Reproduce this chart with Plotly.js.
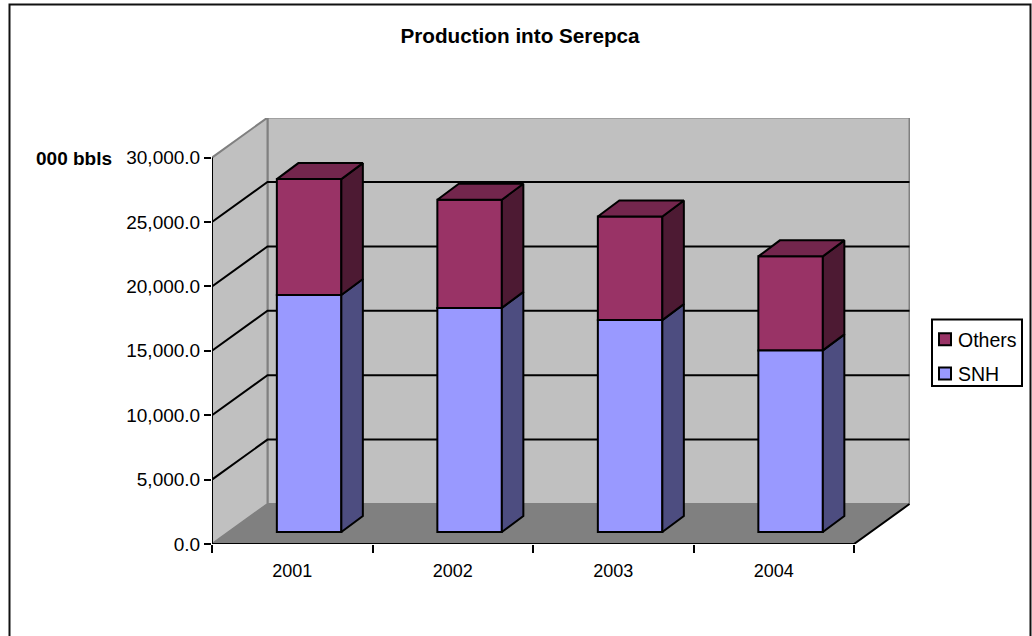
<!DOCTYPE html>
<html><head><meta charset="utf-8">
<script src="https://cdn.plot.ly/plotly-3.0.1.min.js"></script>
<style>html,body{margin:0;padding:0;background:#fff}</style></head>
<body><div id="chart" style="width:1032px;height:636px"></div>
<script>
const categories = ["2001","2002","2003","2004"];
const snh = [18400, 17400, 16450, 14100];
const others = [9000, 8400, 8050, 7300];
const yTicks = [0,5000,10000,15000,20000,25000,30000];

const W=1032,H=636;
const FONT='"Liberation Sans", Arial, sans-serif';
const plot={l:212,r:910,t:118,b:544};
const px=v=>(v-plot.l)/(plot.r-plot.l), py=v=>(plot.b-v)/(plot.b-plot.t);
const yMax=30000*(plot.b-plot.t)/386.4;
const xUnit=160.5;
const xMax=(plot.r-plot.l)/xUnit;
const depthX=55.5/xUnit, depthY=40*30000/386.4;
const barDX=21.5/xUnit, barDY=16*30000/386.4;
const barOffset=0.605, barW=64.5/xUnit, floorGap=12*30000/386.4;
const centers=categories.map((_,i)=>i+barOffset);
const LW=2;

function poly(pts,fill,line,w){
  return {type:'path',xref:'x',yref:'y',layer:'below',
    path:'M'+pts.map(p=>p[0]+','+p[1]).join('L')+(fill?'Z':''),
    fillcolor:fill||'rgba(0,0,0,0)',line:{color:line||'rgba(0,0,0,0)',width:w||0}};
}
const top30=30000;
const shapes=[
  poly([[depthX,depthY],[4+depthX,depthY],[4+depthX,top30+depthY],[depthX,top30+depthY]],'#c0c0c0','#808080',2),
  poly([[0,0],[depthX,depthY],[depthX,top30+depthY],[0,top30]],'#c0c0c0','#808080',2),
  poly([[0,0],[4,0],[4+depthX,depthY],[depthX,depthY]],'#808080','#808080',1)
];
yTicks.slice(1).forEach(v=>{
  if(v<30000) shapes.push(poly([[0,v],[depthX,v+depthY],[4+depthX,v+depthY]],null,'#000',LW));
});
shapes.push(poly([[0,0],[0,top30]],null,'#000',LW));
shapes.push(poly([[0,0],[4,0],[4+depthX,depthY]],null,'#000',LW));
shapes.push({type:'rect',xref:'paper',yref:'paper',x0:px(9.5),x1:px(1030.5),y0:py(650),y1:py(4.5),
  line:{color:'#111',width:2},fillcolor:'rgba(0,0,0,0)',layer:'below'});
shapes.push({type:'rect',xref:'paper',yref:'paper',x0:px(932),x1:px(1022),y0:py(386),y1:py(319.5),
  line:{color:'#000',width:2},fillcolor:'#fff',layer:'below'});

function face(xs,ys,color){
  return {type:'scatter',x:xs,y:ys,mode:'lines',fill:'toself',fillcolor:color,
    line:{color:'#000',width:LW},showlegend:false,hoverinfo:'skip',cliponaxis:false};
}
const traces=[];
const bases=snh.map(()=>floorGap);
const mids=snh.map(v=>v+floorGap);
traces.push({type:'bar',name:'Others',x:centers,y:others,base:mids,width:barW,
  marker:{color:'#993366',line:{color:'#000',width:LW}},legendgroup:'a'});
traces.push({type:'bar',name:'SNH',x:centers,y:snh,base:bases,width:barW,
  marker:{color:'#9999ff',line:{color:'#000',width:LW}},legendgroup:'b'});
centers.forEach((c,i)=>{
  const r=c+barW/2,l=c-barW/2,a=floorGap,b=mids[i],t=mids[i]+others[i];
  traces.push(face([r,r+barDX,r+barDX,r,r],[a,a+barDY,b+barDY,b,a],'#4d4d80'));
  traces.push(face([r,r+barDX,r+barDX,r,r],[b,b+barDY,t+barDY,t,b],'#4d1a33'));
  traces.push(face([l,r,r+barDX,l+barDX,l],[t,t,t+barDY,t+barDY,t],'#73264d'));
});
traces.push({type:'scatter',x:categories.map((_,i)=>i+0.5),y:categories.map(()=>0),xaxis:'x2',
  mode:'markers',marker:{opacity:0},showlegend:false,hoverinfo:'skip'});

const layout={
  width:W,height:H,paper_bgcolor:'#fff',plot_bgcolor:'rgba(0,0,0,0)',
  margin:{l:plot.l,r:W-plot.r,t:plot.t,b:H-plot.b,pad:0,autoexpand:false},
  font:{family:FONT,size:17,color:'#000'},
  title:{text:'<b>Production into Serepca</b>',x:520/W,xanchor:'center',y:1-36/H,yanchor:'middle',
    font:{family:FONT,size:20.7,color:'#000'},automargin:false},
  barmode:'overlay',
  showlegend:true,
  legend:{x:px(925),xanchor:'left',y:py(320),yanchor:'top',bgcolor:'rgba(0,0,0,0)',borderwidth:0,
    font:{family:FONT,size:19.5,color:'#000'},traceorder:'grouped',tracegroupgap:6,itemclick:false,itemdoubleclick:false},
  xaxis:{range:[0,xMax],tickvals:[0,1,2,3,4],ticktext:['','','','',''],ticks:'outside',ticklen:8,tickwidth:LW,tickcolor:'#000',
    showgrid:false,zeroline:false,showline:false,fixedrange:true},
  xaxis2:{overlaying:'x',side:'bottom',anchor:'y',range:[0,xMax],tickvals:categories.map((_,i)=>i+0.5),ticktext:categories,
    ticks:'',showgrid:false,zeroline:false,showline:false,tickfont:{family:FONT,size:18,color:'#000'},ticklabelstandoff:14,fixedrange:true},
  yaxis:{range:[0,yMax],tickvals:yTicks,ticktext:yTicks.map(v=>v.toLocaleString('en-US',{minimumFractionDigits:1,maximumFractionDigits:1})),
    ticks:'outside',ticklen:7,tickwidth:LW,tickcolor:'#000',showgrid:false,zeroline:false,showline:false,
    tickfont:{family:FONT,size:19,color:'#000'},fixedrange:true},
  annotations:[{xref:'paper',yref:'paper',x:px(114),xanchor:'right',y:py(158),yanchor:'middle',showarrow:false,
    text:'<b>000 bbls</b>',font:{family:FONT,size:19,color:'#000'}}],
  shapes:shapes
};
Plotly.newPlot('chart',traces,layout,{displayModeBar:false}).then(()=>{
  document.querySelectorAll('.legend .legendtext').forEach(t=>t.setAttribute('x',+t.getAttribute('x')-7));
});
</script></body></html>
